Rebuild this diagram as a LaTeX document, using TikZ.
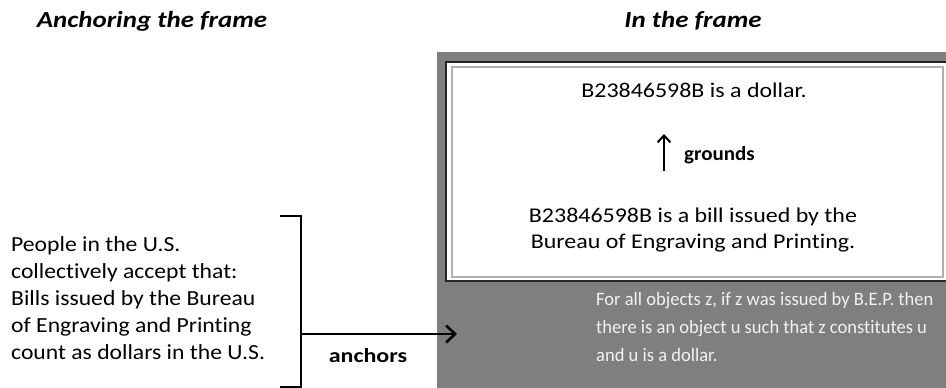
\documentclass[tikz,border=0pt]{standalone}
\usepackage{fontspec}
\setmainfont{Carlito}[Ligatures=NoCommon]
\newfontfamily\leftfont{Carlito}[Ligatures=NoCommon, FakeStretch=1.1]
\newfontfamily\boxfont{Carlito}[Ligatures=NoCommon, FakeStretch=1.14]
\newfontfamily\headfont{Carlito}[Ligatures=NoCommon, FakeStretch=1.17]
\newfontfamily\anchfont{Carlito}[Ligatures=NoCommon, FakeStretch=1.2]
\newfontfamily\gndfont{Carlito}[Ligatures=NoCommon, FakeStretch=1.05]
\newfontfamily\rulefont{Carlito}[Ligatures=NoCommon, FakeStretch=0.975]
\usetikzlibrary{arrows.meta}
\definecolor{framegray}{HTML}{7F7F7F}
\definecolor{lighttext}{HTML}{F2F2F2}
\definecolor{darkedge}{HTML}{262626}
\definecolor{lightedge}{HTML}{B0B0B0}
\tikzset{
  body/.style={font=\leftfont\fontsize{21.5}{27}\selectfont, inner sep=0pt},
  boxtext/.style={font=\boxfont\fontsize{21}{26}\selectfont, inner sep=0pt},
  ruletext/.style={font=\rulefont\fontsize{19}{28}\selectfont, text=lighttext, inner sep=0pt},
  heading/.style={font=\headfont\fontsize{23}{26}\selectfont\bfseries\itshape, inner sep=0pt},
  anchlabel/.style={font=\anchfont\fontsize{20}{24}\selectfont\bfseries, inner sep=0pt},
  gndlabel/.style={font=\gndfont\fontsize{20}{24}\selectfont\bfseries, inner sep=0pt},
  thickline/.style={line width=2.8pt},
  barb/.style={-{Straight Barb[length=9pt,width=17pt,line width=2.6pt]}},
}
\begin{document}
\begin{tikzpicture}[x=1pt,y=-1pt]
\useasboundingbox (0,0) rectangle (946,388);
% headings
\node[heading] (h1) at (152,21) {Anchoring the frame};
\node[heading] (h2) at (693,21) {In the frame};
% frame background
\fill[framegray] (437,52) rectangle (950,392);
% inner white box with double border
\draw[fill=white, draw=darkedge, line width=2.5pt] (446,62) rectangle (952,281);
\draw[draw=lightedge, line width=2pt] (452,67) rectangle (943,277);
% texts in white box
\node[boxtext] (dollar) at (694,90) {B23846598B is a dollar.};
\node[boxtext, align=center] (bill) at (693,230) {B23846598B is a bill issued by the\\Bureau of Engraving and Printing.};
\coordinate (gfrom) at (664,171);
\coordinate (gto) at (664,134);
\draw[line width=2.2pt, -{Straight Barb[length=7pt,width=13pt,line width=2pt]}] (gfrom) -- (gto);
\node[gndlabel, anchor=west] (grounds) at (684,155) {grounds};
% text in gray band
\node[ruletext, align=left, anchor=north west] (rule) at (596,292) {For all objects z, if z was issued by B.E.P. then\\there is an object u such that z constitutes u\\and u is a dollar.};
% left text
\node[body, align=left, anchor=west] (people) at (11,298) {People in the U.S.\\collectively accept that:\\Bills issued by the Bureau\\of Engraving and Printing\\count as dollars in the U.S.};
% bracket
\coordinate (bt) at (280,216);
\coordinate (bb) at (280,387);
\coordinate (bmid) at (301,334);
\coordinate (atip) at (457,334);
\draw[thickline] (bt) -- (301,216) -- (301,387) -- (bb);
\draw[thickline, barb] (bmid) -- (atip);
\node[anchlabel] (anchors) at (368,356) {anchors};
\end{tikzpicture}
\end{document}
